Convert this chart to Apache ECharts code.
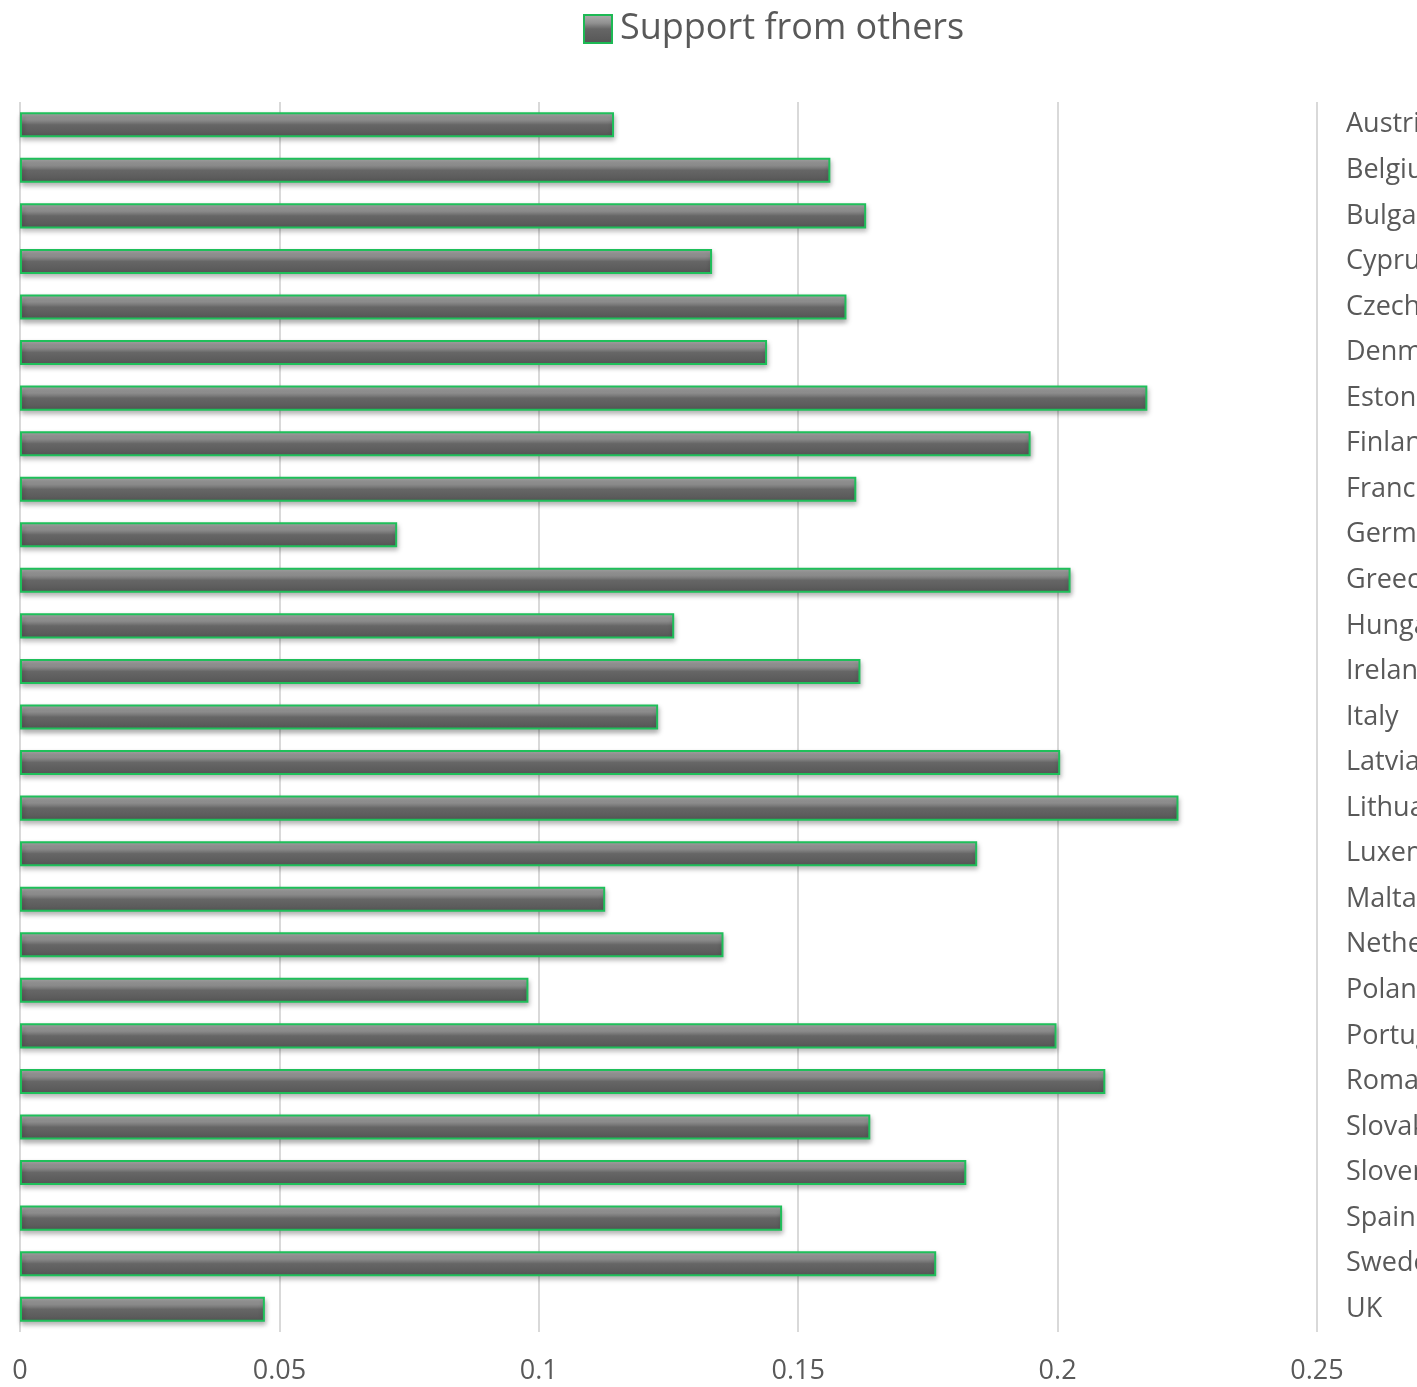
<!DOCTYPE html>
<html><head><meta charset="utf-8">
<script src="https://cdn.jsdelivr.net/npm/echarts@6/dist/echarts.min.js"></script>
<style>html,body{margin:0;padding:0;background:#fff}#c{width:1417px;height:1387px}</style>
</head><body><div id="c"></div>
<script>
const categories = ["Austria","Belgium","Bulgaria","Cyprus","Czech Republic","Denmark","Estonia","Finland","France","Germany","Greece","Hungary","Ireland","Italy","Latvia","Lithuania","Luxembourg","Malta","Netherlands","Poland","Portugal","Romania","Slovakia","Slovenia","Spain","Sweden","UK"];
const supportFromOthers = [0.1145,0.1562,0.1631,0.1334,0.1593,0.1440,0.2173,0.1948,0.1612,0.0727,0.2025,0.1261,0.1620,0.1230,0.2005,0.2233,0.1845,0.1128,0.1356,0.0980,0.1998,0.2092,0.1639,0.1824,0.1469,0.1766,0.0472];
const seriesName = "Support from others";

const barFill = new echarts.graphic.LinearGradient(0,0,0,1,[
  {offset:0,color:'#b0b0b0'},{offset:0.3,color:'#919191'},{offset:0.5,color:'#666666'},{offset:1,color:'#555555'}]);
const chart = echarts.init(document.getElementById('c'));
chart.setOption({
  animation:false,
  textStyle:{fontFamily:'"Open Sans", sans-serif'},
  legend:{top:6,left:578,itemWidth:28,itemHeight:28,itemGap:8,
    textStyle:{fontSize:36,color:'#595959',padding:[0,0,0,3]},
    data:[{name:seriesName,icon:'rect',itemStyle:{color:barFill,borderColor:'#1db954',borderWidth:2}}]},
  grid:{left:20,right:100,top:102,bottom:55,containLabel:false,outerBoundsMode:'none'},
  xAxis:{type:'value',min:0,max:0.25,interval:0.05,
    axisLine:{show:false},axisTick:{show:false},
    axisLabel:{fontSize:27,color:'#595959',margin:26},
    splitLine:{lineStyle:{color:'#d9d9d9',width:2}}},
  yAxis:{type:'category',data:categories,inverse:true,position:'right',
    axisLine:{show:false},axisTick:{show:false},
    axisLabel:{fontSize:27,color:'#595959',margin:29,align:'left'}},
  series:[{name:seriesName,type:'bar',data:supportFromOthers,barWidth:'55%',
    itemStyle:{color:barFill,borderColor:'#1fbf5a',borderWidth:2,
      shadowColor:'rgba(0,0,0,0.3)',shadowBlur:5,shadowOffsetY:3,shadowOffsetX:1}}]
});
</script></body></html>
